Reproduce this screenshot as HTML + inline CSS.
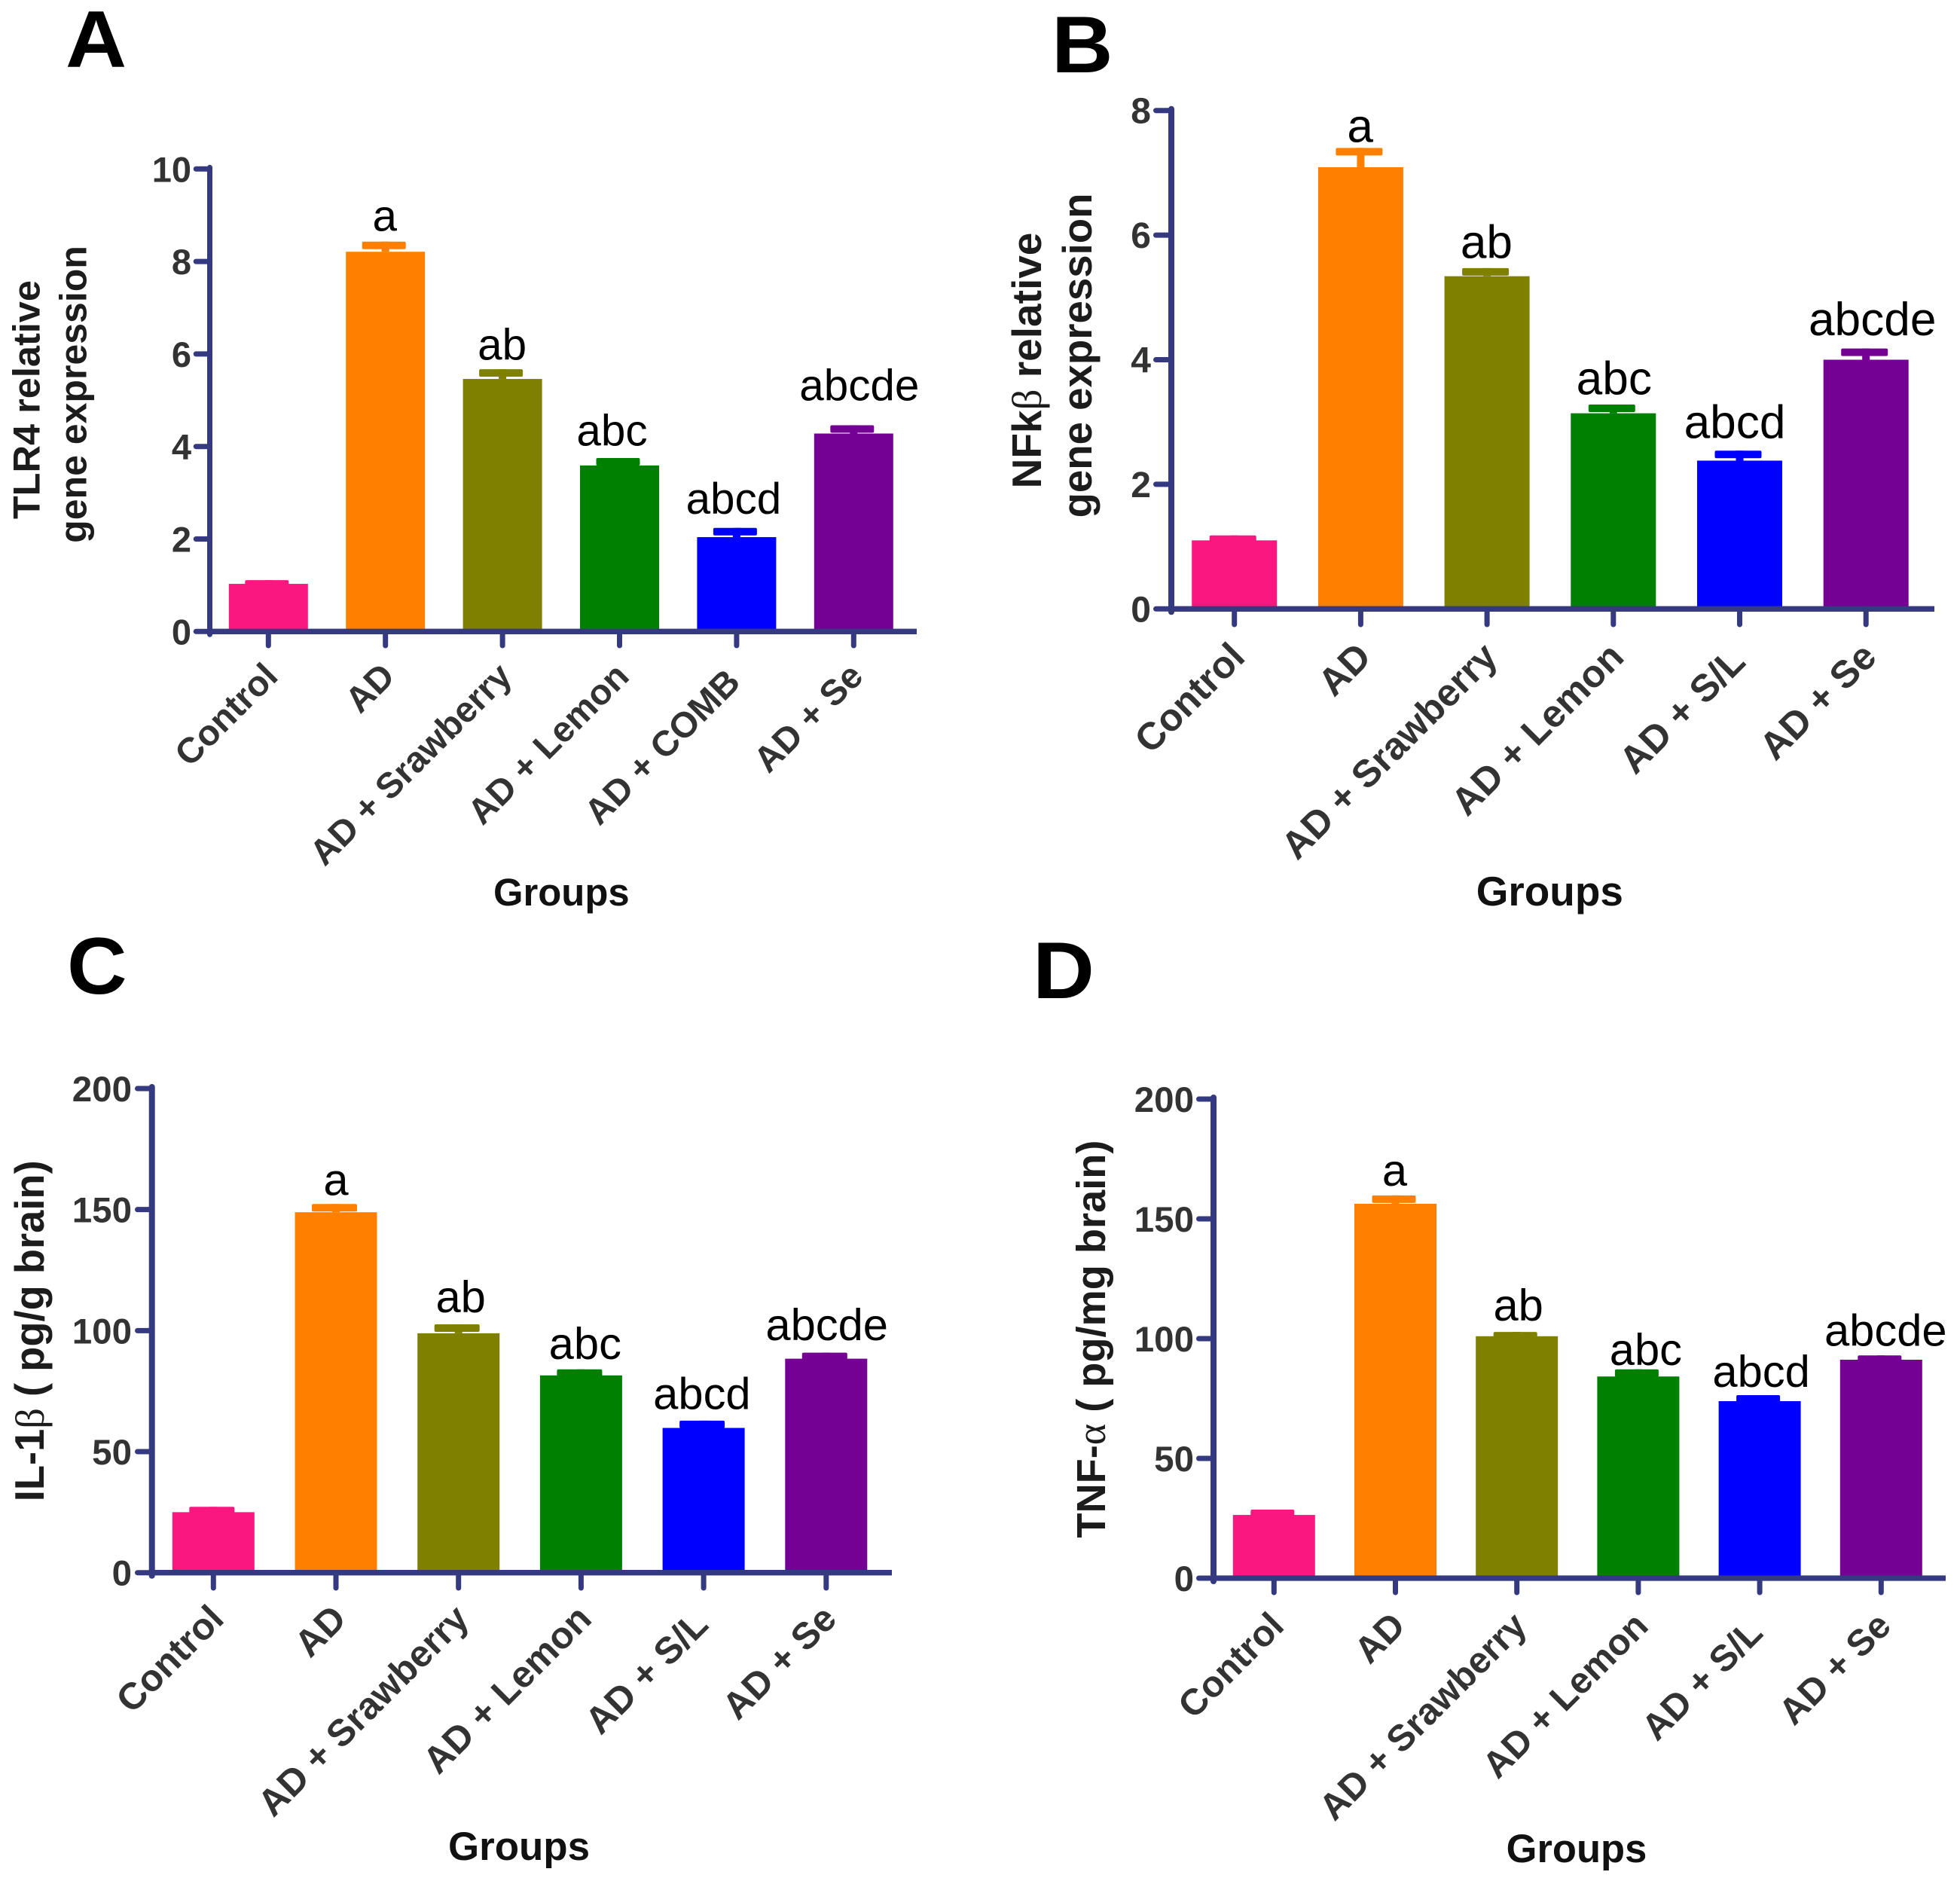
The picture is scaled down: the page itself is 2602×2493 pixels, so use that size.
<!DOCTYPE html>
<html lang="en">
<head>
<meta charset="utf-8">
<title>Gene expression and cytokine bar charts</title>
<style>
html,body{margin:0;padding:0;background:#fff;width:2602px;height:2493px;overflow:hidden}
svg{display:block}
text{font-family:"Liberation Sans",Arial,sans-serif}
.letter{font-size:107px;font-weight:700;fill:#000}
.ytitle{font-weight:700;fill:#1c1c1c}
.xtitle{font-weight:700;fill:#111}
.greek{font-family:"Liberation Serif",serif;font-weight:400}
</style>
</head>
<body>
<svg id="figure" xmlns="http://www.w3.org/2000/svg" width="2602" height="2493" viewBox="0 0 2602 2493">
  <rect x="0" y="0" width="2602" height="2493" fill="#fff"/>

  <g>
    <text class="letter" transform="translate(87 89) scale(1.05 1)">A</text>
    <text class="ytitle" font-size="50.5" text-anchor="middle" transform="translate(52.5 530.6) rotate(-90)">TLR4 relative</text>
    <text class="ytitle" font-size="50" text-anchor="middle" transform="translate(114.5 523.5) rotate(-90)">gene expression</text>
    <text class="xtitle" font-size="50.8" text-anchor="middle" x="745.3" y="1202">Groups</text>
  </g>

  <g>
    <text class="letter" transform="translate(1396 96) scale(1.055 1)">B</text>
    <text class="ytitle" font-size="55" text-anchor="middle" transform="translate(1381.9 478.5) rotate(-90)">NFk<tspan class="greek">β</tspan> relative</text>
    <text class="ytitle" font-size="54.6" text-anchor="middle" transform="translate(1448.8 472) rotate(-90)">gene expression</text>
    <text class="xtitle" font-size="54.9" text-anchor="middle" x="2057.3" y="1202">Groups</text>
  </g>

  <g>
    <text class="letter" transform="translate(89 1319) scale(1.03 1)">C</text>
    <text class="ytitle" font-size="54.3" text-anchor="middle" transform="translate(58.2 1766.8) rotate(-90)">IL-1<tspan class="greek">β</tspan> ( pg/g brain)</text>
    <text class="xtitle" font-size="52.9" text-anchor="middle" x="689" y="2469">Groups</text>
  </g>

  <g>
    <text class="letter" transform="translate(1371 1325) scale(1.06 1)">D</text>
    <text class="ytitle" font-size="54.2" text-anchor="middle" transform="translate(1467.1 1777.6) rotate(-90)">TNF-<tspan class="greek">α</tspan> ( pg/mg brain)</text>
    <text class="xtitle" font-size="52.5" text-anchor="middle" x="2093" y="2472">Groups</text>
  </g>

  <g id="charts"></g>
</svg>

<script>
// ---- data ----
const categoriesA = ['Control', 'AD', 'AD + Srawberry', 'AD + Lemon', 'AD + COMB', 'AD + Se'];
const categoriesOther = ['Control', 'AD', 'AD + Srawberry', 'AD + Lemon', 'AD + S/L', 'AD + Se'];
const sigLetters = ['', 'a', 'ab', 'abc', 'abcd', 'abcde'];

const tlr4Means = [1.03, 8.21, 5.46, 3.59, 2.04, 4.28];
const tlr4Uppers = [1.11, 8.43, 5.67, 3.75, 2.24, 4.46];
const tlr4Ticks = [0, 2, 4, 6, 8, 10];

const nfkbMeans = [1.10, 7.09, 5.34, 3.14, 2.38, 4.00];
const nfkbUppers = [1.18, 7.40, 5.47, 3.28, 2.54, 4.18];
const nfkbTicks = [0, 2, 4, 6, 8];

const il1bMeans = [25.0, 148.9, 98.9, 81.5, 59.8, 88.4];
const il1bUppers = [27.2, 152.3, 102.6, 84.0, 62.8, 90.9];
const il1bTicks = [0, 50, 100, 150, 200];

const tnfaMeans = [26.4, 156.3, 101.0, 84.2, 73.9, 91.2];
const tnfaUppers = [28.6, 159.8, 102.8, 87.2, 76.4, 93.0];
const tnfaTicks = [0, 50, 100, 150, 200];

// ---- styling and layout ----
const barColors = ['#fa1780', '#ff8000', '#808000', '#008000', '#0000ff', '#750094'];
const axisColor = '#353a80';
const SVGNS = 'http://www.w3.org/2000/svg';
const root = document.getElementById('charts');

function make(tag, attrs, parent) {
  const node = document.createElementNS(SVGNS, tag);
  for (const key in attrs) node.setAttribute(key, attrs[key]);
  parent.appendChild(node);
  return node;
}

function drawPanel(id, cats, means, uppers, ticks, layout) {
  const yMax = ticks[ticks.length - 1];
  const y = v => layout.y0 - (v / yMax) * (layout.y0 - layout.yTop);
  const x = i => layout.x0 + i * layout.step;

  const g = make('g', {}, root);
  
  

  cats.forEach((cat, i) => {
    const color = barColors[i];
    const stem = make('rect', {x: x(i) - 5, y: y(uppers[i]), width: 10, height: Math.max(0, y(means[i]) - y(uppers[i])), fill: color}, g);
    
    

    const cap = make('rect', {x: x(i) - 2 - layout.capW / 2, y: y(uppers[i]), width: layout.capW, height: 10, rx: 2, fill: color}, g);
    
    

    const bar = make('rect', {x: x(i) - layout.barW / 2, y: y(means[i]), width: layout.barW, height: y(0) - y(means[i]), fill: color}, g);
    
    

    if (sigLetters[i]) {
      const sig = make('text', {
        x: x(i) + layout.sigDx[i],
        y: y(uppers[i]) - layout.sigGap[i],
        'text-anchor': 'middle',
        'font-size': layout.sigSize,
        fill: '#000'
      }, g);
      sig.textContent = sigLetters[i];
      
      
    }

    const tick = make('line', {x1: x(i), x2: x(i), y1: layout.y0, y2: layout.xTickEnd - 3, stroke: axisColor, 'stroke-width': 7, 'stroke-linecap': 'round'}, g);
    
    

    const along = layout.labelShift[i] * Math.SQRT1_2;
    const ex = x(i) + layout.labelDx + along;
    const ey = layout.y0 + layout.labelDy - along;
    const lab = make('text', {
      x: ex, y: ey,
      'text-anchor': 'end',
      'font-size': layout.catSize,
      'font-weight': 700,
      fill: '#333',
      transform: 'rotate(-45 ' + ex + ' ' + ey + ')'
    }, g);
    lab.textContent = cat;
    
    
  });

  ticks.forEach((t, i) => {
    const tk = make('line', {x1: layout.yTickLeft + 3.5, x2: layout.axisX, y1: y(t), y2: y(t), stroke: axisColor, 'stroke-width': 7, 'stroke-linecap': 'round'}, g);
    
    

    const tl = make('text', {x: layout.yLabelRight, y: y(t) + 17, 'text-anchor': 'end', 'font-size': layout.tickSize, 'font-weight': 700, fill: '#333'}, g);
    tl.textContent = String(t);
    
    
  });

  const yAxis = make('line', {x1: layout.axisX, x2: layout.axisX, y1: layout.yTop - 2, y2: layout.y0 + 4, stroke: axisColor, 'stroke-width': layout.axisW, 'stroke-linecap': 'round'}, g);
  
  

  const xAxis = make('line', {x1: layout.axisX, x2: layout.xRight, y1: layout.y0, y2: layout.y0, stroke: axisColor, 'stroke-width': 7.3}, g);
  
  
}

drawPanel('a', categoriesA, tlr4Means, tlr4Uppers, tlr4Ticks, {
  y0: 838.3, yTop: 224.3, axisX: 278.5, axisW: 7, x0: 356.3, step: 155.4, barW: 105, capW: 58,
  xRight: 1217, xTickEnd: 860, yTickLeft: 256.7, yLabelRight: 254, tickSize: 47,
  sigSize: 58.4, sigDx: [0, -1, -0.5, -10, -4, 7.5], sigGap: [0, 14, 12.7, 16.5, 19, 33],
  catSize: 47.5, labelDx: 15, labelDy: 62, labelShift: [0, 0, 0, 0, -11, 0]
});

drawPanel('b', categoriesOther, nfkbMeans, nfkbUppers, nfkbTicks, {
  y0: 808.3, yTop: 146.7, axisX: 1555, axisW: 8, x0: 1638.7, step: 167.7, barW: 113, capW: 62,
  xRight: 2568, xTickEnd: 832, yTickLeft: 1531, yLabelRight: 1528, tickSize: 48,
  sigSize: 62.2, sigDx: [0, -0.7, -0.7, 1, -6.5, 8.5], sigGap: [0, 7.9, 13.5, 13.5, 16.6, 17.4],
  catSize: 50.8, labelDx: 16.5, labelDy: 66.5, labelShift: [0, 0, 0, 0, -9, 0]
});

drawPanel('c', categoriesOther, il1bMeans, il1bUppers, il1bTicks, {
  y0: 2087.7, yTop: 1445, axisX: 201.7, axisW: 8, x0: 283.3, step: 162.7, barW: 109, capW: 60,
  xRight: 1184, xTickEnd: 2111, yTickLeft: 179, yLabelRight: 175, tickSize: 47.5,
  sigSize: 59.7, sigDx: [0, 0, 3, 5.4, -2.2, 0.9], sigGap: [0, 12, 16, 13.6, 15.2, 16.8],
  catSize: 49.6, labelDx: 16.4, labelDy: 64, labelShift: [0, 0, 0, 0, -11, 0]
});

drawPanel('d', categoriesOther, tnfaMeans, tnfaUppers, tnfaTicks, {
  y0: 2095, yTop: 1459, axisX: 1611, axisW: 8, x0: 1691.3, step: 161.2, barW: 109, capW: 58,
  xRight: 2583, xTickEnd: 2117, yTickLeft: 1588, yLabelRight: 1585, tickSize: 47.5,
  sigSize: 59.7, sigDx: [0, -1, 2, 10, 2, 6], sigGap: [0, 12.8, 15, 5.7, 11, 12.6],
  catSize: 48.8, labelDx: 15.7, labelDy: 66, labelShift: [0, 0, 0, 0, -13, 0]
});
</script>
</body>
</html>
